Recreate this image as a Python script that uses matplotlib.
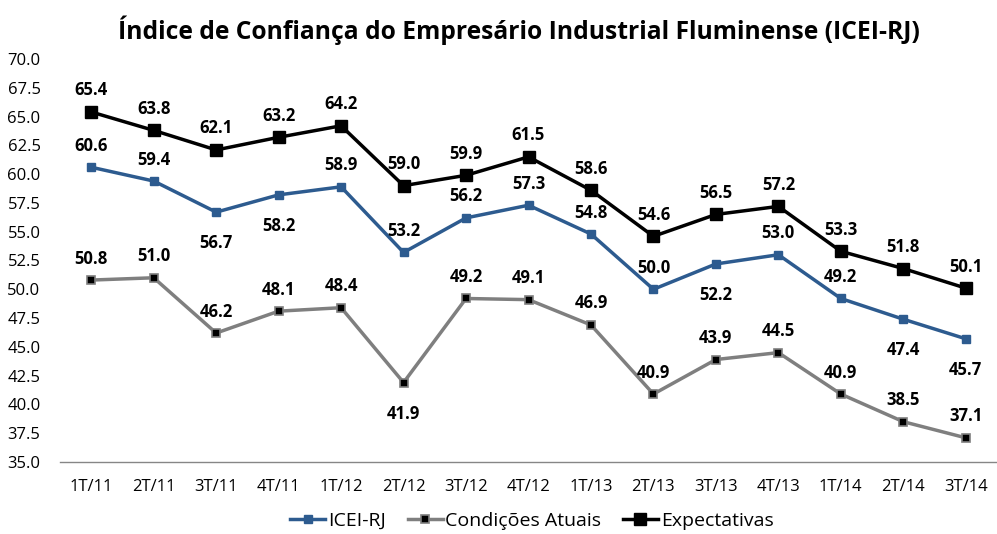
import matplotlib
matplotlib.use("Agg")
import matplotlib.pyplot as plt
import numpy as np

categories = ["1T/11", "2T/11", "3T/11", "4T/11", "1T/12", "2T/12", "3T/12", "4T/12",
              "1T/13", "2T/13", "3T/13", "4T/13", "1T/14", "2T/14", "3T/14"]
icei = [60.6, 59.4, 56.7, 58.2, 58.9, 53.2, 56.2, 57.3, 54.8, 50.0, 52.2, 53.0, 49.2, 47.4, 45.7]
condicoes = [50.8, 51.0, 46.2, 48.1, 48.4, 41.9, 49.2, 49.1, 46.9, 40.9, 43.9, 44.5, 40.9, 38.5, 37.1]
expectativas = [65.4, 63.8, 62.1, 63.2, 64.2, 59.0, 59.9, 61.5, 58.6, 54.6, 56.5, 57.2, 53.3, 51.8, 50.1]
icei_below = [2, 3, 10, 13, 14]
cond_below = [5]

plt.rcParams['font.family'] = ['Open Sans', 'DejaVu Sans']

fig = plt.figure(figsize=(9.97, 5.34), dpi=100)
ax = fig.add_axes([60/997, 1-462/534, 937/997, 403/534])

x = np.arange(len(categories))
blue = "#2D5B8F"
gray = "#7F7F7F"

ax.plot(x, icei, color=blue, lw=2.5, marker="s", ms=6, mfc=blue, mec=blue, label="ICEI-RJ")
ax.plot(x, condicoes, color=gray, lw=2.5, marker="s", ms=5.5, mfc="black", mec=gray, mew=1.2,
        label="Condições Atuais")
ax.plot(x, expectativas, color="black", lw=2.5, marker="s", ms=8, mfc="black", mec="black",
        label="Expectativas")

def annotate(vals, below_idx):
    for i, v in enumerate(vals):
        if i in below_idx:
            ax.annotate(f"{v:.1f}", (i, v), xytext=(0, -16), textcoords="offset points",
                        ha="center", va="top", fontsize=12, fontweight="bold")
        else:
            ax.annotate(f"{v:.1f}", (i, v), xytext=(0, 9), textcoords="offset points",
                        ha="center", va="bottom", fontsize=12, fontweight="bold")

annotate(icei, icei_below)
annotate(condicoes, cond_below)
annotate(expectativas, [])

ax.set_xlim(-0.5, len(categories) - 0.5)
ax.set_ylim(35, 70)
ax.set_yticks(np.arange(35, 70.01, 2.5))
ax.set_yticklabels([f"{t:.1f}" for t in np.arange(35, 70.01, 2.5)], fontsize=12)
ax.set_xticks(x)
ax.set_xticklabels(categories, fontsize=12)
ax.tick_params(axis="y", length=0, pad=14)
ax.tick_params(axis="x", length=0, pad=12)
for s in ["top", "right", "left"]:
    ax.spines[s].set_visible(False)
ax.spines["bottom"].set_color("#868686")
ax.spines["bottom"].set_linewidth(1)

fig.suptitle("Índice de Confiança do Empresário Industrial Fluminense (ICEI-RJ)",
             x=519/997, y=1-30/534, va="center", fontsize=17.7, fontweight="bold")

fig.legend(loc="center", bbox_to_anchor=(532/997, 1-521/534), ncol=3, frameon=False,
           fontsize=14, handlelength=1.8, handletextpad=0.15, columnspacing=1.1)

fig.savefig("out.png", dpi=100)
